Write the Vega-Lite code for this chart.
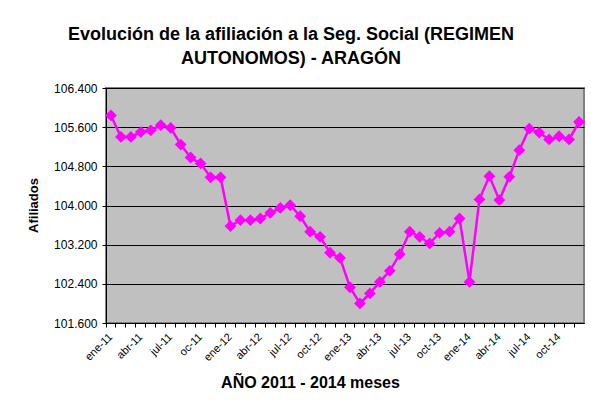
{
  "$schema": "https://vega.github.io/schema/vega-lite/v6.json",
  "width": 478,
  "height": 235,
  "autosize": "none",
  "padding": {"left": 106, "top": 88, "right": 7, "bottom": 83},
  "background": "white",
  "title": {
    "text": ["Evolución de la afiliación a la Seg. Social (REGIMEN", "AUTONOMOS) - ARAGÓN"],
    "font": "Liberation Sans",
    "fontSize": 18,
    "fontWeight": "bold",
    "color": "black",
    "anchor": "middle",
    "frame": "group",
    "dx": -54,
    "offset": 14,
    "lineHeight": 24
  },
  "data": {
    "values": [
      {"mes": "ene-11", "afiliados": 105840},
      {"mes": "feb-11", "afiliados": 105400},
      {"mes": "mar-11", "afiliados": 105400},
      {"mes": "abr-11", "afiliados": 105500},
      {"mes": "may-11", "afiliados": 105535},
      {"mes": "jun-11", "afiliados": 105640},
      {"mes": "jul-11", "afiliados": 105585},
      {"mes": "ago-11", "afiliados": 105245},
      {"mes": "sep-11", "afiliados": 104980},
      {"mes": "oc-11", "afiliados": 104860},
      {"mes": "nov-11", "afiliados": 104575},
      {"mes": "dic-11", "afiliados": 104575},
      {"mes": "ene-12", "afiliados": 103580},
      {"mes": "feb-12", "afiliados": 103700},
      {"mes": "mar-12", "afiliados": 103700},
      {"mes": "abr-12", "afiliados": 103735},
      {"mes": "may-12", "afiliados": 103850},
      {"mes": "jun-12", "afiliados": 103950},
      {"mes": "jul-12", "afiliados": 104005},
      {"mes": "ago-12", "afiliados": 103780},
      {"mes": "sep-12", "afiliados": 103465},
      {"mes": "oct-12", "afiliados": 103360},
      {"mes": "nov-12", "afiliados": 103035},
      {"mes": "dic-12", "afiliados": 102930},
      {"mes": "ene-13", "afiliados": 102330},
      {"mes": "feb-13", "afiliados": 102000},
      {"mes": "mar-13", "afiliados": 102205},
      {"mes": "abr-13", "afiliados": 102440},
      {"mes": "may-13", "afiliados": 102665},
      {"mes": "jun-13", "afiliados": 103005},
      {"mes": "jul-13", "afiliados": 103465},
      {"mes": "ago-13", "afiliados": 103360},
      {"mes": "sep-13", "afiliados": 103225},
      {"mes": "oct-13", "afiliados": 103440},
      {"mes": "nov-13", "afiliados": 103465},
      {"mes": "dic-13", "afiliados": 103735},
      {"mes": "ene-14", "afiliados": 102440},
      {"mes": "feb-14", "afiliados": 104125},
      {"mes": "mar-14", "afiliados": 104600},
      {"mes": "abr-14", "afiliados": 104110},
      {"mes": "may-14", "afiliados": 104585},
      {"mes": "jun-14", "afiliados": 105130},
      {"mes": "jul-14", "afiliados": 105570},
      {"mes": "ago-14", "afiliados": 105490},
      {"mes": "sep-14", "afiliados": 105350},
      {"mes": "oct-14", "afiliados": 105415},
      {"mes": "nov-14", "afiliados": 105350},
      {"mes": "dic-14", "afiliados": 105705}
    ]
  },
  "encoding": {
    "x": {
      "field": "mes",
      "type": "ordinal",
      "sort": null,
      "scale": {"type": "band", "paddingInner": 0, "paddingOuter": 0},
      "axis": {
        "bandPosition": 0,
        "grid": false,
        "domainColor": "black",
        "domainWidth": 1,
        "tickColor": "black",
        "tickSize": 4,
        "labelAngle": -45,
        "labelAlign": "right",
        "labelBaseline": "middle",
        "labelFont": "Liberation Sans",
        "labelFontSize": 11,
        "labelColor": "black",
        "labelPadding": 8,
        "labelOverlap": false,
        "labelBound": false,
        "labelExpr": "test(/^(ene|abr|jul|oc)/, datum.value) ? datum.value : ''",
        "title": "AÑO 2011 - 2014 meses",
        "titleFont": "Liberation Sans",
        "titleFontSize": 16,
        "titleFontWeight": "bold",
        "titleColor": "black",
        "titleAlign": "center",
        "titleBaseline": "alphabetic",
        "titleX": 204,
        "titleY": 64
      }
    },
    "y": {
      "field": "afiliados",
      "type": "quantitative",
      "scale": {"domain": [101600, 106400], "zero": false, "nice": false},
      "axis": {
        "values": [101600, 102400, 103200, 104000, 104800, 105600, 106400],
        "grid": true,
        "gridColor": "black",
        "gridWidth": 1,
        "gridOpacity": 1,
        "domainColor": "black",
        "domainWidth": 1,
        "tickColor": "black",
        "tickSize": 4,
        "labelFont": "Liberation Sans",
        "labelFontSize": 12,
        "labelColor": "black",
        "labelPadding": 5,
        "labelExpr": "replace(format(datum.value, ','), ',', '.')",
        "title": "Afiliados",
        "titleFont": "Liberation Sans",
        "titleFontSize": 13,
        "titleFontWeight": "bold",
        "titleColor": "black",
        "titleAngle": 270,
        "titleAlign": "center",
        "titleBaseline": "middle",
        "titleX": -73,
        "titleY": 117
      }
    }
  },
  "layer": [
    {"mark": {"type": "line", "color": "#FF00FF", "strokeWidth": 2.5}},
    {"mark": {"type": "point", "shape": "diamond", "filled": true, "color": "#FF00FF", "size": 140, "opacity": 1}}
  ],
  "config": {
    "view": {"fill": "#C0C0C0", "stroke": "#808080", "strokeWidth": 2}
  }
}
